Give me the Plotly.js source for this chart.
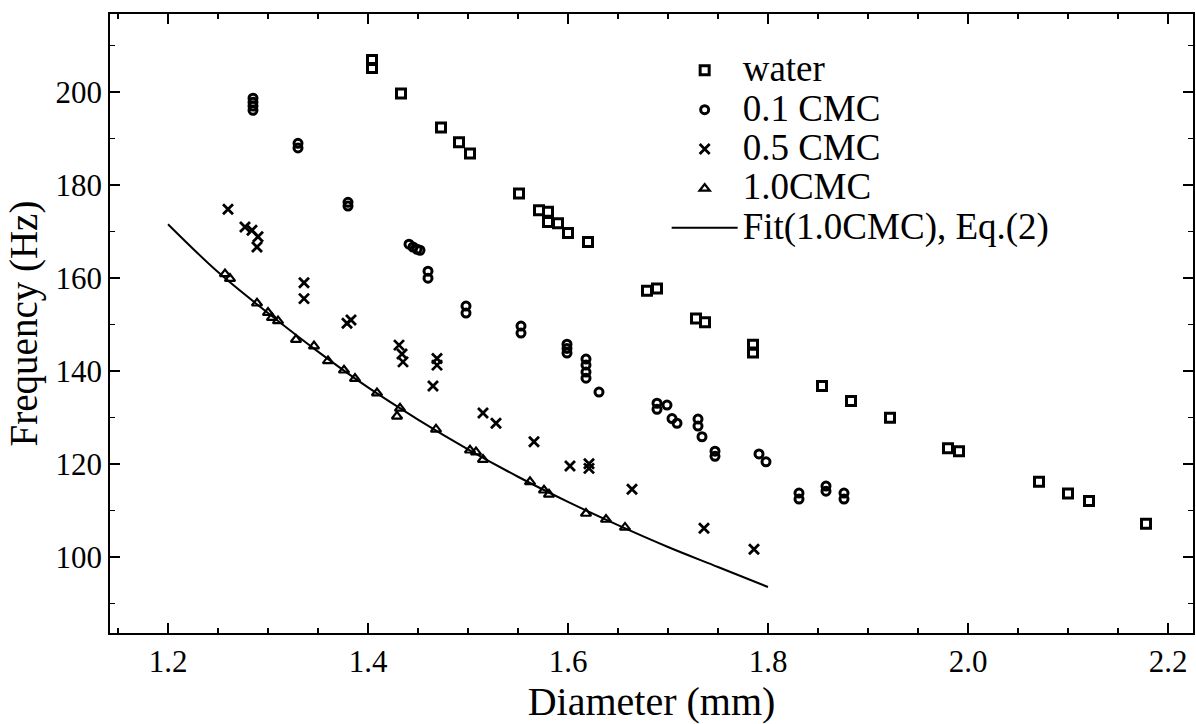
<!DOCTYPE html>
<html>
<head>
<meta charset="utf-8">
<script src="https://cdn.plot.ly/plotly-3.0.1.min.js"></script>
<style>html,body{margin:0;padding:0;background:#fff;}#chart{width:1196px;height:724px;}</style>
</head>
<body>
<div id="chart"></div>
<script>
// water (open squares)
const waterD = [1.404,1.404,1.433,1.473,1.491,1.502,1.551,1.571,1.580,1.580,1.590,1.600,1.620,1.679,1.689,1.728,1.737,1.785,1.785,1.854,1.883,1.922,1.980,1.991,2.071,2.100,2.121,2.178];
const waterF = [206.9,205.2,199.7,192.4,189.2,186.8,178.2,174.6,174.3,172.1,171.8,169.7,167.8,157.3,157.8,151.3,150.5,145.7,144.0,136.8,133.6,130.0,123.4,122.8,116.2,113.7,112.1,107.2];

// 0.1 CMC (open circles)
const cmc01D = [1.285,1.285,1.285,1.285,1.330,1.330,1.380,1.380,1.441,1.445,1.449,1.452,1.460,1.460,1.498,1.498,1.553,1.553,1.599,1.599,1.599,1.618,1.618,1.618,1.618,1.631,1.689,1.689,1.699,1.704,1.709,1.730,1.730,1.734,1.747,1.747,1.791,1.798,1.831,1.831,1.858,1.858,1.876,1.876];
const cmc01F = [198.7,197.8,197.0,196.1,189.0,188.0,176.3,175.5,167.3,166.7,166.2,166.0,161.5,160.0,154.0,152.5,149.7,148.2,145.8,144.9,143.9,142.6,141.3,139.8,138.5,135.5,133.1,131.8,132.7,129.8,128.8,129.7,128.2,125.9,122.8,121.7,122.2,120.5,113.8,112.5,115.3,114.2,113.8,112.5];

// 0.5 CMC (crosses)
const cmc05D = [1.260,1.277,1.284,1.290,1.289,1.336,1.336,1.379,1.383,1.431,1.434,1.435,1.469,1.469,1.465,1.515,1.528,1.566,1.602,1.621,1.621,1.664,1.736,1.786];
const cmc05F = [174.8,171.0,170.3,168.9,166.7,159.0,155.6,150.3,151.0,145.6,143.7,142.0,142.7,141.3,136.8,131.0,128.8,124.8,119.6,120.1,119.1,114.6,106.2,101.7];

// 1.0 CMC (open triangles)
const cmc10D = [1.257,1.262,1.289,1.300,1.304,1.310,1.328,1.346,1.360,1.376,1.387,1.409,1.432,1.429,1.468,1.502,1.508,1.515,1.562,1.576,1.581,1.618,1.638,1.657];
const cmc10F = [160.9,159.9,154.6,152.6,151.5,150.8,146.8,145.4,142.2,140.2,138.4,135.3,132.0,130.3,127.5,123.0,122.6,121.0,116.2,114.4,113.5,109.4,108.1,106.4];

// Fit (1.0CMC), Eq.(2)
const fitD = [1.20,1.25,1.30,1.35,1.40,1.45,1.50,1.55,1.60,1.65,1.70,1.75,1.80];
const fitF = [171.6,161.3,152.5,144.2,136.5,129.6,123.2,117.3,111.9,106.9,102.2,97.9,93.6];

const xTickVals = [1.2,1.4,1.6,1.8,2.0,2.2];
const xTickText = ["1.2","1.4","1.6","1.8","2.0","2.2"];
const yTickVals = [100,120,140,160,180,200];
const yTickText = ["100","120","140","160","180","200"];

const seriesNames = ["water","0.1 CMC","0.5 CMC","1.0CMC","Fit(1.0CMC), Eq.(2)"];

const FONT = "'Liberation Serif', 'Times New Roman', serif";
// legend rows are tightly spaced in the original; larger text drawn inside compact rows
const legName = s => '<span style="font-size:37px">' + s + '</span>';

const traces = [
  {x: waterD, y: waterF, name: legName(seriesNames[0]), type: 'scatter', mode: 'markers',
   marker: {symbol: 'square-open', size: 9, color: '#000', line: {width: 3, color: '#000'}}},
  {x: cmc01D, y: cmc01F, name: legName(seriesNames[1]), type: 'scatter', mode: 'markers',
   marker: {symbol: 'circle-open', size: 8, color: '#000', line: {width: 3, color: '#000'}}},
  {x: cmc05D, y: cmc05F, name: legName(seriesNames[2]), type: 'scatter', mode: 'markers',
   marker: {symbol: 'x-thin-open', size: 10, color: '#000', line: {width: 2.8, color: '#000'}}},
  {x: cmc10D, y: cmc10F, name: legName(seriesNames[3]), type: 'scatter', mode: 'markers',
   marker: {symbol: 'triangle-up-open', size: 9, color: '#000', line: {width: 2.2, color: '#000'}}},
  {x: fitD, y: fitF, name: legName(seriesNames[4]), type: 'scatter', mode: 'lines', line: {shape: 'spline', color: '#000', width: 2}}
];

const axisCommon = {
  showgrid: false, zeroline: false, showline: true, linecolor: '#000', linewidth: 1.8,
  mirror: 'ticks', ticks: 'inside', ticklen: 10, tickwidth: 1.5, tickcolor: '#000',
  tickfont: {family: FONT, size: 31, color: '#000'}
};

const layout = {
  width: 1196, height: 724,
  margin: {l: 110, r: 3, t: 14, b: 91},
  paper_bgcolor: '#fff', plot_bgcolor: '#fff',
  font: {family: FONT, color: '#000'},
  xaxis: Object.assign({}, axisCommon, {
    range: [1.142, 2.225], tickvals: xTickVals, ticktext: xTickText,
    minor: {dtick: 0.05, tick0: 1.0, ticks: 'inside', ticklen: 5, tickwidth: 1.2, tickcolor: '#000'},
    title: {text: 'Diameter (mm)', font: {family: FONT, size: 40, color: '#000'}, standoff: 10}
  }),
  yaxis: Object.assign({}, axisCommon, {
    range: [83.7, 216.8], tickvals: yTickVals, ticktext: yTickText,
    minor: {dtick: 10, tick0: 0, ticks: 'inside', ticklen: 5, tickwidth: 1.2, tickcolor: '#000'},
    title: {text: 'Frequency (Hz)', font: {family: FONT, size: 39, color: '#000'}, standoff: 6}
  }),
  showlegend: true,
  legend: {
    x: 0.514, y: 0.949, xanchor: 'left', yanchor: 'top',
    bgcolor: 'rgba(0,0,0,0)', borderwidth: 0,
    font: {family: FONT, size: 28, color: '#000'},
    itemwidth: 66, tracegroupgap: 0
  }
};

Plotly.newPlot('chart', traces, layout, {displayModeBar: false, staticPlot: true});
</script>
</body>
</html>
